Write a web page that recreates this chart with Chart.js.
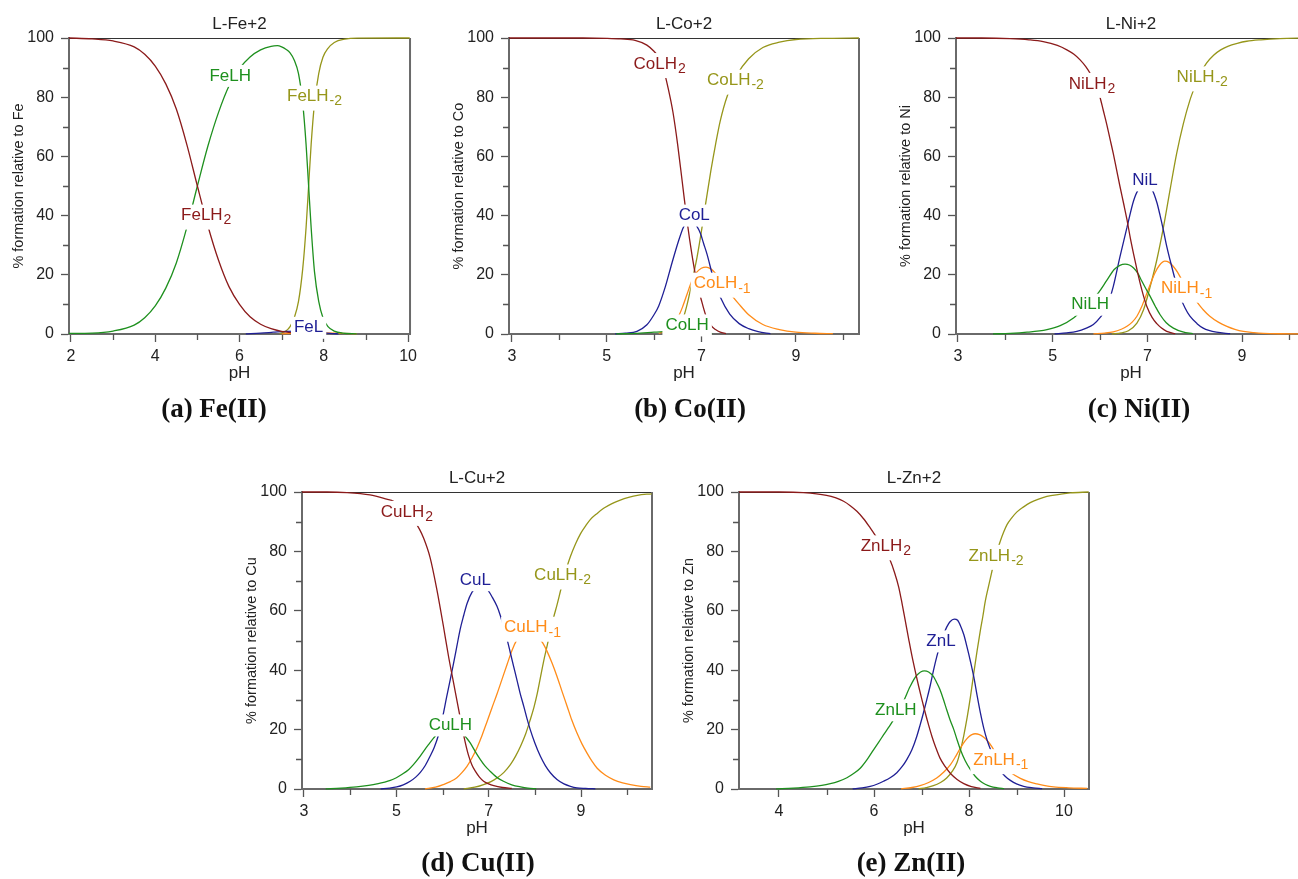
<!DOCTYPE html>
<html>
<head>
<meta charset="utf-8">
<title>L-M(II) species distribution</title>
<script src="https://cdn.jsdelivr.net/npm/chart.js@4.4.1/dist/chart.umd.min.js"></script>
<style>
  html, body { margin: 0; padding: 0; background: #fff; overflow: hidden; }
  body { width: 1298px; height: 879px; position: relative; }
  .panel { position: absolute; }
  .caption {
    position: absolute; transform: translate(-50%, -50%); white-space: nowrap;
    font: bold 27px "Liberation Serif", "Times New Roman", serif; color: #111;
  }
</style>
</head>
<body>
<div id="figure"></div>
<script>
/* ═══════════════════════════════════════════════════════════════════
   DATA — [pH, % formation]
   ═══════════════════════════════════════════════════════════════════ */

/* ── (a) Fe(II) ─────────────────────────────────────────────────── */
const feLH2  = [[1.95,100],[2.5,99.7],[3.0,99],[3.5,97],[3.75,94.5],[4.0,90.5],[4.25,84.5],[4.5,76],[4.75,64],[5.0,50],[5.25,36.5],[5.5,25],[5.75,16],[6.0,10],[6.25,5.8],[6.5,3.3],[6.75,1.8],[7.0,0.9],[7.25,0.4]];
const feLH   = [[1.95,0.2],[2.5,0.3],[3.0,1],[3.5,3],[3.75,5.5],[4.0,9.5],[4.25,15.5],[4.5,24],[4.75,36],[5.0,50],[5.25,63.5],[5.5,74.8],[5.75,83.8],[6.0,89.7],[6.25,93.6],[6.5,96],[6.75,97.2],[6.9,97.4],[7.0,97],[7.1,96.2],[7.2,95],[7.3,92.5],[7.4,88],[7.5,78],[7.58,64],[7.64,50],[7.7,36],[7.78,21],[7.88,11],[7.98,5.5],[8.1,2.5],[8.25,1],[8.45,0.3],[8.78,0.05]];
const feLHm2 = [[6.95,0.1],[7.1,1],[7.2,2.5],[7.3,5.5],[7.4,11],[7.5,22],[7.58,36],[7.64,50],[7.7,64],[7.78,78],[7.88,88],[7.98,93.5],[8.1,96.5],[8.25,98.5],[8.5,99.6],[8.8,99.95],[10.04,100]];
const feL    = [[6.15,0.05],[6.5,0.3],[6.8,0.6],[7.1,0.9],[7.4,1.0],[7.7,0.8],[8.0,0.4],[8.2,0.15],[8.35,0.05]];
const feLHm1 = [[7.0,0.05],[7.3,0.2],[7.65,0.4],[8.0,0.35],[8.4,0.2],[8.78,0.05]];

/* ── (b) Co(II) ─────────────────────────────────────────────────── */
const coLH2  = [[2.94,100],[4.5,100],[5.0,99.9],[5.3,99.7],[5.6,99.2],[5.85,97.6],[6.0,95.5],[6.1,93.5],[6.2,89.5],[6.3,83],[6.4,75],[6.5,64],[6.6,51],[6.7,38],[6.8,27],[6.9,18],[7.0,11.5],[7.1,6],[7.2,3],[7.3,1.5],[7.4,0.6],[7.52,0.15]];
const coLHm2 = [[6.3,0.3],[6.45,1.5],[6.55,3.5],[6.63,6],[6.7,10],[6.77,15],[6.84,20.5],[6.91,26],[7.0,34.5],[7.1,45],[7.2,55],[7.3,64],[7.4,72],[7.55,80.5],[7.75,87.5],[8.0,93],[8.3,96.8],[8.65,98.6],[9.0,99.5],[9.7,99.9],[10.33,100]];
const coL    = [[5.18,0.05],[5.4,0.3],[5.64,0.9],[5.85,3.1],[6.0,6.5],[6.1,9.5],[6.24,16],[6.38,24],[6.52,31.5],[6.62,36],[6.72,38.3],[6.8,38.2],[6.9,36.5],[6.98,34],[7.05,30.5],[7.12,27],[7.26,18.5],[7.4,12.5],[7.6,6.7],[7.8,3.5],[8.0,1.8],[8.2,0.8],[8.46,0.1]];
const coLHm1 = [[6.1,0.2],[6.25,1],[6.35,2],[6.45,4],[6.52,6],[6.6,9],[6.7,13.5],[6.8,18],[6.9,20.8],[7.0,22.2],[7.1,22.6],[7.2,22],[7.3,20.5],[7.44,18],[7.6,14],[7.8,10],[8.0,6.5],[8.3,3.2],[8.65,1.5],[9.0,0.6],[9.4,0.25],[9.78,0.1]];
const coLH   = [[5.2,0.05],[5.6,0.2],[6.0,0.6],[6.4,1.0],[6.7,1.1],[7.0,0.6],[7.23,0.1]];

/* ── (c) Ni(II) ─────────────────────────────────────────────────── */
const niLH2  = [[2.96,100],[3.5,100],[4.1,99.8],[4.5,99.4],[4.8,98.8],[5.1,97.5],[5.3,96],[5.45,94.5],[5.58,92.6],[5.7,90.3],[5.8,87.8],[5.9,84.5],[6.0,80],[6.07,75.5],[6.14,71],[6.21,66],[6.28,61],[6.35,55.5],[6.42,50],[6.5,44],[6.57,38.6],[6.64,32.5],[6.71,27],[6.78,21.8],[6.85,17],[6.92,12.8],[6.99,9.3],[7.1,5.6],[7.2,3.5],[7.3,2],[7.41,0.9],[7.59,0.1]];
const niLHm2 = [[6.25,0.05],[6.45,0.4],[6.6,1.1],[6.78,3.7],[6.92,8.2],[7.06,16],[7.2,25],[7.34,36],[7.48,48.7],[7.62,61],[7.76,71],[7.9,79],[8.01,83.8],[8.12,88],[8.25,91.5],[8.4,94.2],[8.55,96],[8.7,97.2],[8.9,98.2],[9.1,98.9],[9.4,99.4],[9.8,99.8],[10.35,100]];
const niL    = [[5.04,0.05],[5.3,0.4],[5.51,0.9],[5.7,1.9],[5.86,3.2],[6.0,5.5],[6.14,9],[6.28,16],[6.42,26],[6.57,36],[6.71,45],[6.82,49],[6.96,50.5],[7.1,48.8],[7.2,44.5],[7.27,40],[7.34,35],[7.41,29.6],[7.48,25],[7.55,20.6],[7.62,16.5],[7.69,12.7],[7.8,8.7],[7.9,6],[8.05,3.5],[8.18,2],[8.3,1.2],[8.46,0.6],[8.75,0.1]];
const niLH   = [[3.74,0.05],[4.1,0.2],[4.46,0.6],[4.88,1.5],[5.16,2.8],[5.44,5.4],[5.65,8.5],[5.8,11],[5.97,14],[6.14,18],[6.3,21.8],[6.42,23.2],[6.53,23.6],[6.62,23.3],[6.71,22.3],[6.8,20.5],[6.88,18],[6.97,15.3],[7.06,12.7],[7.17,9.3],[7.27,6.5],[7.4,3.8],[7.55,2],[7.75,0.7],[7.96,0.1]];
const niLHm1 = [[5.86,0.05],[6.1,0.3],[6.28,0.7],[6.45,1.6],[6.57,2.6],[6.68,4],[6.78,6],[6.88,9.2],[6.99,13.8],[7.08,17.5],[7.16,20.6],[7.26,23.3],[7.37,24.6],[7.46,24.2],[7.55,22.8],[7.64,20.8],[7.73,18.3],[7.88,14.5],[8.04,11],[8.18,8.2],[8.32,6],[8.5,4],[8.68,2.6],[8.85,1.6],[9.03,0.9],[9.25,0.45],[9.45,0.2],[9.8,0.08],[10.35,0.05]];

/* ── (d) Cu(II) ─────────────────────────────────────────────────── */
const cuLH2  = [[2.96,100],[3.5,100],[3.93,99.8],[4.43,99],[4.79,97.6],[4.94,96.9],[5.15,94.5],[5.37,90.7],[5.5,87.5],[5.59,84.5],[5.73,78],[5.88,67],[5.95,61],[6.02,54.8],[6.13,44.7],[6.24,35.7],[6.35,26.7],[6.46,18],[6.56,11.5],[6.64,8],[6.71,6],[6.8,4],[6.89,2.6],[7.0,1.7],[7.11,1.1],[7.3,0.5],[7.5,0.2]];
const cuL    = [[4.66,0.05],[4.85,0.3],[5.01,0.7],[5.15,1.4],[5.3,2.6],[5.42,4],[5.52,5.6],[5.63,8],[5.73,11],[5.82,14],[5.91,18],[6.0,24],[6.09,31],[6.17,37],[6.24,42.4],[6.31,48],[6.38,53.6],[6.46,58.5],[6.53,62.4],[6.64,66.3],[6.75,68],[6.86,68.3],[6.97,67.2],[7.08,64.5],[7.18,61.5],[7.25,58.5],[7.32,54.8],[7.4,50.3],[7.47,45.8],[7.54,41.3],[7.61,36.8],[7.68,32.3],[7.76,27.8],[7.83,23.7],[7.9,20],[8.0,15.5],[8.12,11],[8.23,7.8],[8.34,5.4],[8.48,3.2],[8.63,1.7],[8.77,0.9],[8.91,0.4],[9.1,0.2],[9.31,0.05]];
const cuLH   = [[3.47,0.05],[3.8,0.3],[4.14,0.7],[4.4,1.2],[4.58,1.7],[4.87,2.9],[5.0,3.8],[5.15,5.2],[5.27,6.6],[5.37,8.2],[5.48,10.3],[5.59,12.7],[5.7,15],[5.81,17.2],[5.91,19],[6.02,20.2],[6.15,20.6],[6.28,20.2],[6.38,19.3],[6.46,18.3],[6.53,17],[6.6,15.5],[6.71,12.6],[6.82,9.9],[6.92,7.8],[7.03,6],[7.17,4],[7.32,2.6],[7.5,1.4],[7.69,0.7],[7.85,0.3],[8.03,0.1]];
const cuLHm1 = [[5.62,0.05],[5.85,0.6],[6.02,1.5],[6.17,2.5],[6.31,3.8],[6.42,5.5],[6.53,7.6],[6.64,10.5],[6.75,14],[6.86,18.2],[6.96,22.5],[7.07,27.3],[7.18,32],[7.29,37],[7.4,42],[7.5,46.5],[7.61,50.2],[7.73,52.5],[7.85,53.3],[7.97,52.8],[8.08,51],[8.17,49.2],[8.26,46.5],[8.37,42.5],[8.48,37.9],[8.59,32.8],[8.7,27.8],[8.8,23.2],[8.91,18.9],[9.02,15.2],[9.13,12.1],[9.24,9.3],[9.35,7],[9.53,4.6],[9.71,3.1],[9.9,2.1],[10.07,1.5],[10.3,0.9],[10.5,0.6]];
const cuLHm2 = [[6.46,0.05],[6.7,0.6],[6.89,1.5],[7.05,2.5],[7.18,3.7],[7.33,5.6],[7.47,8.2],[7.58,11],[7.69,14.4],[7.8,18.5],[7.9,23.3],[7.98,27.5],[8.05,32],[8.12,37.5],[8.19,43],[8.27,48.5],[8.34,53.6],[8.41,58],[8.48,62],[8.56,67],[8.63,71.2],[8.7,75],[8.77,78.3],[8.88,82.5],[8.99,86],[9.1,88.6],[9.2,90.7],[9.35,92.8],[9.49,94.5],[9.67,96.1],[9.85,97.3],[10.03,98.2],[10.22,98.9],[10.53,99.4]];

/* ── (e) Zn(II) ─────────────────────────────────────────────────── */
const znLH2  = [[3.16,100],[4.0,100],[4.51,99.8],[5.0,98.9],[5.2,98],[5.36,96.9],[5.5,95.4],[5.64,93.5],[5.78,91],[5.92,87.9],[6.03,85.3],[6.13,82.8],[6.24,80],[6.34,77],[6.43,73],[6.52,68],[6.59,62.5],[6.66,56.5],[6.73,50.5],[6.8,44.7],[6.87,39.5],[6.94,34.6],[7.01,30],[7.08,25.6],[7.15,21.5],[7.22,17.7],[7.3,14],[7.39,10.4],[7.5,7.5],[7.61,5.2],[7.75,3.2],[7.89,1.8],[8.05,0.8],[8.24,0.2]];
const znLH   = [[3.94,0.05],[4.3,0.3],[4.65,0.7],[4.9,1.2],[5.08,1.8],[5.25,2.6],[5.43,3.8],[5.57,5.2],[5.71,7],[5.85,9.8],[5.99,13.2],[6.1,15.8],[6.2,18.2],[6.31,20.8],[6.41,23.3],[6.52,26.5],[6.62,29.5],[6.76,34.5],[6.9,38.3],[7.06,39.8],[7.15,39.4],[7.25,37.9],[7.32,35.8],[7.39,33.4],[7.46,30.2],[7.53,26.7],[7.6,23.3],[7.68,20],[7.75,16.5],[7.82,13.2],[7.92,9.5],[8.03,6.5],[8.13,4.3],[8.24,2.6],[8.34,1.6],[8.45,0.9],[8.6,0.4],[8.74,0.1]];
const znL    = [[5.55,0.05],[5.75,0.4],[5.92,0.9],[6.06,1.6],[6.2,2.6],[6.34,3.8],[6.48,5.5],[6.59,7.5],[6.69,9.9],[6.8,13.3],[6.9,17.7],[6.97,21.5],[7.04,25.6],[7.11,30],[7.18,34.6],[7.25,39.8],[7.32,44.5],[7.39,48.5],[7.46,51.8],[7.53,54.5],[7.6,56.3],[7.69,57.2],[7.76,56.8],[7.82,55],[7.89,52],[7.96,47.7],[8.03,43],[8.1,37.8],[8.17,31.5],[8.24,25.6],[8.31,20.5],[8.38,16.5],[8.48,12.2],[8.57,8.8],[8.66,6.2],[8.76,4.3],[8.87,2.9],[9.0,1.7],[9.15,0.9],[9.35,0.4],[9.54,0.1]];
const znLHm1 = [[6.57,0.05],[6.8,0.5],[6.97,1.1],[7.15,2.2],[7.32,3.7],[7.47,5.7],[7.61,8.2],[7.72,11],[7.82,13.8],[7.91,16],[7.99,17.5],[8.06,18.3],[8.13,18.6],[8.22,18.3],[8.31,17.4],[8.4,16],[8.48,14.3],[8.6,11],[8.73,7.8],[8.9,5.3],[9.08,3.6],[9.25,2.5],[9.43,1.7],[9.6,1.1],[9.78,0.7],[10.1,0.4],[10.49,0.2]];
const znLHm2 = [[6.94,0.05],[7.1,0.5],[7.25,1.1],[7.4,2.2],[7.53,3.7],[7.65,6],[7.75,9],[7.82,13],[7.89,18],[7.96,24],[8.03,31],[8.1,39],[8.17,46.5],[8.24,53.5],[8.29,58],[8.34,63],[8.4,67.5],[8.45,71],[8.5,74.5],[8.55,77.5],[8.6,80.5],[8.66,83.5],[8.73,86.5],[8.8,89],[8.9,91.3],[9.01,93.3],[9.15,95],[9.29,96.4],[9.45,97.5],[9.64,98.5],[9.9,99.2],[10.13,99.7],[10.52,100]];

/* x tick labels shown on each panel (ticks themselves every 1 pH unit) */
const feTicks = [2, 4, 6, 8, 10];
const coTicks = [3, 5, 7, 9];
const niTicks = [3, 5, 7, 9];
const cuTicks = [3, 5, 7, 9];
const znTicks = [4, 6, 8, 10];

/* ═══════════════════════════════════════════════════════════════════
   STYLE
   ═══════════════════════════════════════════════════════════════════ */
const RED = "#8b1a1a", GREEN = "#1e901e", BLUE = "#1f1f95", OLIVE = "#96961a", ORANGE = "#ff8c19";
const SANS = '"Liberation Sans", Arial, Helvetica, sans-serif';
const AXIS = "#6a6a6a";
const TICK = "#555";

/* species label: text, subscript, anchor in data units (pH, %) */
function lbl(main, sub, x, y, color) { return { main, sub, x, y, color }; }

const panels = [
  { title: "L-Fe+2", metal: "Fe", caption: "(a) Fe(II)", capX: 214, capY: 408,
    box: { left: 69, top: 38, width: 343, height: 296 }, xMin: 1.953, xMax: 10.047, ticks: feTicks,
    series: [[feLH2, RED], [feLH, GREEN], [feL, BLUE], [feLHm1, ORANGE], [feLHm2, OLIVE]],
    labels: [lbl("FeLH", "", 5.78, 87.2, GREEN), lbl("FeLH", "-2", 7.78, 80.2, OLIVE),
             lbl("FeLH", "2", 5.21, 40, RED), lbl("FeL", "", 7.64, 2.1, BLUE)] },
  { title: "L-Co+2", metal: "Co", caption: "(b) Co(II)", capX: 690, capY: 408,
    box: { left: 509, top: 38, width: 350, height: 296 }, xMin: 2.937, xMax: 10.331, ticks: coTicks,
    series: [[coLH2, RED], [coLH, GREEN], [coL, BLUE], [coLHm1, ORANGE], [coLHm2, OLIVE]],
    labels: [lbl("CoLH", "2", 6.12, 91.2, RED), lbl("CoLH", "-2", 7.72, 85.6, OLIVE),
             lbl("CoL", "", 6.85, 40, BLUE), lbl("CoLH", "-1", 7.44, 17, ORANGE),
             lbl("CoLH", "", 6.70, 2.9, GREEN)] },
  { title: "L-Ni+2", metal: "Ni", caption: "(c) Ni(II)", capX: 1139, capY: 408,
    box: { left: 956, top: 38, width: 350, height: 296 }, xMin: 2.958, xMax: 10.352, ticks: niTicks,
    series: [[niLH2, RED], [niLH, GREEN], [niL, BLUE], [niLHm1, ORANGE], [niLHm2, OLIVE]],
    labels: [lbl("NiLH", "2", 5.83, 84.5, RED), lbl("NiLH", "-2", 8.16, 86.7, OLIVE),
             lbl("NiL", "", 6.95, 51.9, BLUE), lbl("NiLH", "", 5.79, 9.9, GREEN),
             lbl("NiLH", "-1", 7.83, 15.3, ORANGE)] },
  { title: "L-Cu+2", metal: "Cu", caption: "(d) Cu(II)", capX: 478, capY: 862,
    box: { left: 302, top: 492, width: 350, height: 297 }, xMin: 2.957, xMax: 10.537, ticks: cuTicks,
    series: [[cuLH2, RED], [cuLH, GREEN], [cuL, BLUE], [cuLHm1, ORANGE], [cuLHm2, OLIVE]],
    labels: [lbl("CuLH", "2", 5.23, 93.3, RED), lbl("CuL", "", 6.71, 70.3, BLUE),
             lbl("CuLH", "-2", 8.60, 71.9, OLIVE), lbl("CuLH", "-1", 7.95, 54.3, ORANGE),
             lbl("CuLH", "", 6.17, 21.4, GREEN)] },
  { title: "L-Zn+2", metal: "Zn", caption: "(e) Zn(II)", capX: 911, capY: 862,
    box: { left: 739, top: 492, width: 350, height: 297 }, xMin: 3.158, xMax: 10.526, ticks: znTicks,
    series: [[znLH2, RED], [znLH, GREEN], [znL, BLUE], [znLHm1, ORANGE], [znLHm2, OLIVE]],
    labels: [lbl("ZnLH", "2", 6.25, 81.7, RED), lbl("ZnLH", "-2", 8.57, 78.5, OLIVE),
             lbl("ZnL", "", 7.41, 49.7, BLUE), lbl("ZnLH", "", 6.46, 26.5, GREEN),
             lbl("ZnLH", "-1", 8.67, 9.7, ORANGE)] },
];

/* space around the plot area inside each canvas */
const PAD = { left: 70, top: 40, right: 10, bottom: 60 };
const MINOR_LEN = 5;

/* ── frame, minor ticks, titles and in-plot species labels ───────── */
const decorPlugin = {
  id: "decor",
  beforeDatasetsDraw(chart) {
    const { ctx, chartArea: a, scales: { x, y } } = chart;
    const p = chart.options.plugins.decor;
    ctx.save();
    ctx.strokeStyle = "#333";
    ctx.lineWidth = 1;
    ctx.beginPath(); ctx.moveTo(a.left, a.top + 0.5); ctx.lineTo(a.right, a.top + 0.5); ctx.stroke();
    ctx.strokeStyle = AXIS;
    ctx.lineWidth = 2;
    ctx.beginPath(); ctx.moveTo(a.right, a.top); ctx.lineTo(a.right, a.bottom); ctx.stroke();

    // short unlabelled ticks
    ctx.strokeStyle = TICK;
    ctx.lineWidth = 1.3;
    ctx.beginPath();
    x.ticks.forEach((t) => {
      if (p.ticks.includes(t.value)) return;
      const px = Math.round(x.getPixelForValue(t.value)) + 0.5;
      ctx.moveTo(px, a.bottom); ctx.lineTo(px, a.bottom + MINOR_LEN + 1);
    });
    y.ticks.forEach((t) => {
      if (t.value % 20 === 0) return;
      const py = Math.round(y.getPixelForValue(t.value)) + 0.5;
      ctx.moveTo(a.left - MINOR_LEN - 1, py); ctx.lineTo(a.left, py);
    });
    ctx.stroke();
    ctx.restore();
  },
  afterDatasetsDraw(chart) {
    const { ctx, scales: { x, y } } = chart;
    const p = chart.options.plugins.decor;
    ctx.save();
    ctx.textBaseline = "middle";
    ctx.textAlign = "left";
    p.labels.forEach((l) => {
      const px = x.getPixelForValue(l.x), py = y.getPixelForValue(l.y);
      ctx.font = "17px " + SANS;
      const wm = ctx.measureText(l.main).width;
      ctx.font = "14px " + SANS;
      const ws = l.sub ? ctx.measureText(l.sub).width + 1 : 0;
      const x0 = px - (wm + ws) / 2;
      ctx.fillStyle = "#fff";
      ctx.fillRect(x0 - 3, py - 11, wm + ws + 6, l.sub ? 25 : 22);
      ctx.fillStyle = l.color;
      ctx.font = "17px " + SANS;
      ctx.fillText(l.main, x0, py);
      if (l.sub) { ctx.font = "14px " + SANS; ctx.fillText(l.sub, x0 + wm + 1, py + 5); }
    });
    ctx.restore();
  },
  afterDraw(chart) {
    const { ctx, chartArea: a } = chart;
    const p = chart.options.plugins.decor;
    const cx = (a.left + a.right) / 2;
    ctx.save();
    ctx.fillStyle = "#222";
    ctx.textAlign = "center";
    ctx.textBaseline = "middle";
    ctx.font = "17px " + SANS;
    ctx.fillText(p.title, cx, a.top - 14);
    ctx.fillText("pH", cx, a.bottom + 39);
    ctx.translate(a.left - 50, (a.top + a.bottom) / 2);
    ctx.rotate(-Math.PI / 2);
    ctx.font = "14.5px " + SANS;
    ctx.fillText("% formation relative to " + p.metal, 0, 0);
    ctx.restore();
  },
};

/* ── build one panel ─────────────────────────────────────────────── */
function makePanel(p) {
  const fig = document.getElementById("figure");
  const wrap = document.createElement("div");
  wrap.className = "panel";
  const w = p.box.width + PAD.left + PAD.right;
  const h = p.box.height + PAD.top + PAD.bottom;
  wrap.style.cssText = `left:${p.box.left - PAD.left}px;top:${p.box.top - PAD.top}px;width:${w}px;height:${h}px;`;
  const canvas = document.createElement("canvas");
  wrap.appendChild(canvas);
  fig.appendChild(wrap);

  const cap = document.createElement("div");
  cap.className = "caption";
  cap.textContent = p.caption;
  cap.style.left = p.capX + "px";
  cap.style.top = p.capY + "px";
  fig.appendChild(cap);

  new Chart(canvas, {
    type: "line",
    data: {
      datasets: p.series.map(([pts, color]) => ({
        data: pts.map(([px, py]) => ({ x: px, y: py })),
        borderColor: color,
        borderWidth: 1.3,
        pointRadius: 0,
        fill: false,
        cubicInterpolationMode: "monotone",
        clip: false,
      })),
    },
    options: {
      responsive: true,
      maintainAspectRatio: false,
      animation: false,
      events: [],
      layout: { padding: { left: 0, top: PAD.top, right: PAD.right, bottom: 0 } },
      plugins: {
        legend: { display: false },
        tooltip: { enabled: false },
        decor: { title: p.title, metal: p.metal, labels: p.labels, ticks: p.ticks },
      },
      scales: {
        x: {
          type: "linear",
          min: p.xMin, max: p.xMax,
          afterFit: (s) => { s.height = PAD.bottom; },
          border: { display: true, color: AXIS, width: 2 },
          grid: {
            drawOnChartArea: false, drawTicks: true, tickLength: 8, tickWidth: 1.3,
            tickColor: (c) => (c.tick && p.ticks.includes(c.tick.value) ? TICK : "rgba(0,0,0,0)"),
          },
          ticks: {
            stepSize: 1, includeBounds: false, autoSkip: false, maxRotation: 0, padding: 5,
            color: "#222", font: { family: SANS, size: 16 },
            callback: (v) => (p.ticks.includes(v) ? String(v) : ""),
          },
        },
        y: {
          min: 0, max: 100,
          afterFit: (s) => { s.width = PAD.left; },
          border: { display: true, color: AXIS, width: 2 },
          grid: {
            drawOnChartArea: false, drawTicks: true, tickLength: 8, tickWidth: 1.3,
            tickColor: (c) => (c.tick && c.tick.value % 20 === 0 ? TICK : "rgba(0,0,0,0)"),
          },
          ticks: {
            stepSize: 10, autoSkip: false, padding: 7,
            color: "#222", font: { family: SANS, size: 16 },
            callback: (v) => (v % 20 === 0 ? String(v) : ""),
          },
        },
      },
    },
    plugins: [decorPlugin],
  });
}

panels.forEach(makePanel);
</script>
</body>
</html>
